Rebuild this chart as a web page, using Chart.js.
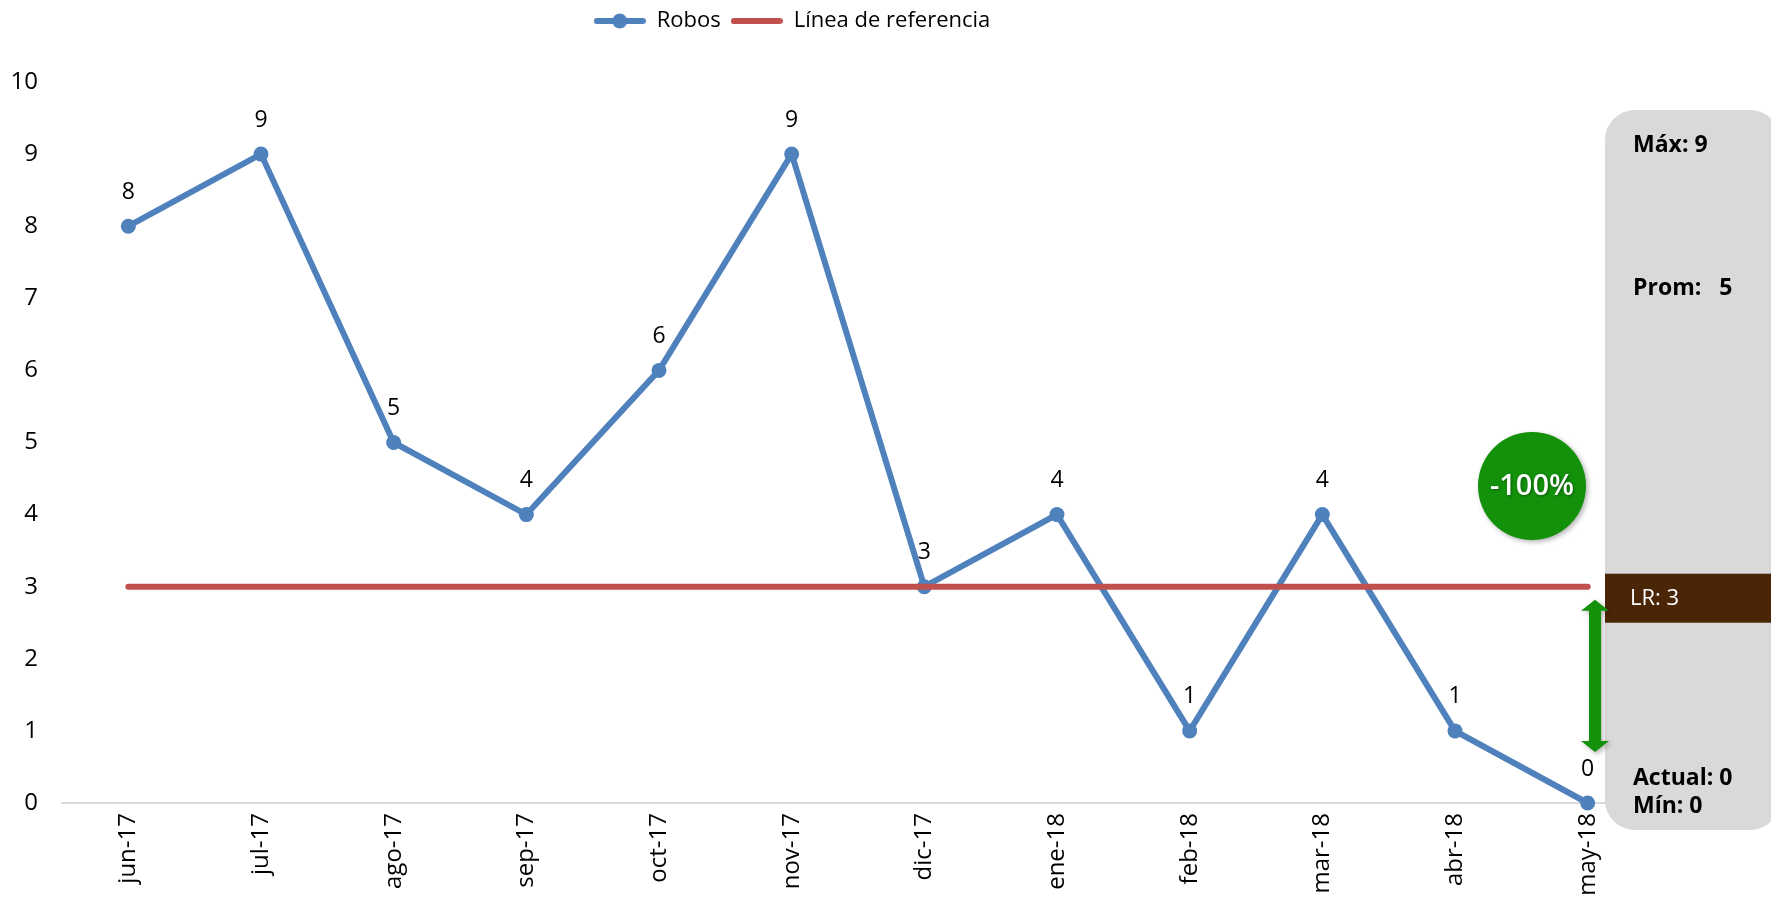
<!DOCTYPE html>
<html>
<head>
<meta charset="utf-8">
<script src="https://cdn.jsdelivr.net/npm/chart.js@4.4.1/dist/chart.umd.min.js"></script>
<style>
  html, body { margin: 0; padding: 0; background: #fff; }
  #wrap { width: 1771px; height: 900px; }
</style>
</head>
<body>
<div id="wrap"><canvas id="c" width="1771" height="900"></canvas></div>
<script>
// data
const meses = ['jun-17','jul-17','ago-17','sep-17','oct-17','nov-17','dic-17','ene-18','feb-18','mar-18','abr-18','may-18'];
const robos = [8, 9, 5, 4, 6, 9, 3, 4, 1, 4, 1, 0];
const lineaRef = [3, 3, 3, 3, 3, 3, 3, 3, 3, 3, 3, 3];
const yTicks = [0, 1, 2, 3, 4, 5, 6, 7, 8, 9, 10];

const azul = '#4f81bd';
const rojo = '#c0504d';
const verde = '#13910b';
const cafe = '#4a2506';
const gris = '#d9d9d9';
const fuente = '"Open Sans", "DejaVu Sans", sans-serif';

// stats shown in the side panel
const maximo = Math.max(...robos);
const minimo = Math.min(...robos);
const actual = robos[robos.length - 1];
const anterior = robos[robos.length - 2];
const promedio = Math.round(robos.reduce((a, b) => a + b, 0) / robos.length);
const cambio = anterior ? Math.round((actual - anterior) / anterior * 100) : 0;
const refValor = lineaRef[0];

// legend markers
function marcador(color, conPunto) {
  const c = document.createElement('canvas');
  c.width = 52; c.height = 18;
  const g = c.getContext('2d');
  g.strokeStyle = color;
  g.lineWidth = 6;
  g.lineCap = 'round';
  g.beginPath(); g.moveTo(3, 9); g.lineTo(49, 9); g.stroke();
  if (conPunto) {
    g.fillStyle = color;
    g.beginPath(); g.arc(26, 9, 7.5, 0, Math.PI * 2); g.fill();
  }
  return c;
}
const mkRobos = marcador(azul, true);
const mkRef = marcador(rojo, false);

// value labels above the points
const etiquetas = {
  id: 'etiquetas',
  afterDatasetsDraw(chart) {
    const ctx = chart.ctx;
    const meta = chart.getDatasetMeta(0);
    ctx.save();
    ctx.font = '23px ' + fuente;
    ctx.fillStyle = '#000';
    ctx.textAlign = 'center';
    ctx.textBaseline = 'middle';
    meta.data.forEach((p, i) => {
      ctx.fillText(String(robos[i]), p.x, p.y - 34);
    });
    ctx.restore();
  }
};

// put the legend at the very top
const moverLeyenda = {
  id: 'moverLeyenda',
  afterLayout(chart) {
    const lg = chart.legend;
    if (!lg) return;
    const h = lg.bottom - lg.top;
    lg.top = 0;
    lg.bottom = h;
    lg.right -= 70;
  }
};

// side panel, arrow, circle
const panel = {
  id: 'panel',
  afterDraw(chart) {
    const ctx = chart.ctx;
    const ys = chart.scales.y;
    const y3 = ys.getPixelForValue(refValor);
    const y0 = ys.getPixelForValue(0);
    const px = 1605;

    ctx.save();
    // grey box
    ctx.fillStyle = gris;
    ctx.beginPath();
    ctx.roundRect(px, 110, 175, 720, 30);
    ctx.fill();

    // brown band for LR
    ctx.fillStyle = cafe;
    ctx.fillRect(px, y3 - 13, 170, 49);

    ctx.fillStyle = '#fff';
    ctx.font = '22px ' + fuente;
    ctx.textAlign = 'left';
    ctx.textBaseline = 'middle';
    ctx.fillText('LR: ' + refValor, 1630, y3 + 12);

    // texts
    ctx.fillStyle = '#000';
    ctx.font = 'bold 23px ' + fuente;
    ctx.fillText('Máx: ' + maximo, 1633, 145);
    ctx.fillText('Prom:   ' + promedio, 1633, 288);
    ctx.fillText('Actual: ' + actual, 1633, 778);
    ctx.fillText('Mín: ' + minimo, 1633, 806);

    // green double arrow
    const ax = 1595;
    const top = y3 + 13, bot = y0 - 51;
    ctx.shadowColor = 'rgba(0,0,0,0.3)';
    ctx.shadowBlur = 5;
    ctx.shadowOffsetX = 2;
    ctx.shadowOffsetY = 2;
    ctx.fillStyle = verde;
    ctx.beginPath();
    ctx.moveTo(ax, top);
    ctx.lineTo(ax + 14, top + 11);
    ctx.lineTo(ax + 6, top + 11);
    ctx.lineTo(ax + 6, bot - 11);
    ctx.lineTo(ax + 14, bot - 11);
    ctx.lineTo(ax, bot);
    ctx.lineTo(ax - 14, bot - 11);
    ctx.lineTo(ax - 6, bot - 11);
    ctx.lineTo(ax - 6, top + 11);
    ctx.lineTo(ax - 14, top + 11);
    ctx.closePath();
    ctx.fill();

    // change circle
    ctx.beginPath();
    ctx.arc(1532, 486, 54, 0, Math.PI * 2);
    ctx.fill();
    ctx.shadowBlur = 3;
    ctx.shadowOffsetX = 1;
    ctx.shadowOffsetY = 1;
    ctx.shadowColor = 'rgba(0,0,0,0.4)';
    ctx.fillStyle = '#fff';
    ctx.font = '600 29px ' + fuente;
    ctx.textAlign = 'center';
    ctx.fillText(cambio + '%', 1532, 487);
    ctx.restore();
  }
};

const data = {
  labels: meses,
  datasets: [
    {
      label: 'Robos',
      data: robos,
      borderColor: azul,
      backgroundColor: azul,
      borderWidth: 6,
      pointStyle: 'circle',
      pointRadius: 7.5,
      pointHoverRadius: 7.5,
      pointBackgroundColor: azul,
      pointBorderWidth: 0,
      tension: 0,
      clip: false,
      order: 2
    },
    {
      label: 'Línea de referencia',
      data: lineaRef,
      borderColor: rojo,
      backgroundColor: rojo,
      borderWidth: 6,
      borderCapStyle: 'round',
      pointRadius: 0,
      pointHoverRadius: 0,
      tension: 0,
      clip: false,
      order: 1
    }
  ]
};

const config = {
  type: 'line',
  data,
  options: {
    responsive: false,
    devicePixelRatio: 1,
    animation: false,
    layout: { padding: { left: 0, right: 117, top: 40, bottom: 0 } },
    plugins: {
      legend: {
        position: 'top',
        labels: {
          usePointStyle: true,
          pointStyleWidth: 52,
          color: '#000',
          font: { family: fuente, size: 22 },
          padding: 10,
          generateLabels(chart) {
            return chart.data.datasets.map((ds, i) => ({
              text: ds.label,
              fillStyle: ds.borderColor,
              strokeStyle: ds.borderColor,
              lineWidth: 0,
              pointStyle: i === 0 ? mkRobos : mkRef,
              hidden: false,
              datasetIndex: i,
              fontColor: '#000'
            }));
          }
        }
      },
      tooltip: { enabled: false }
    },
    scales: {
      x: {
        offset: true,
        grid: { display: false, drawTicks: false },
        border: { display: true, color: gris, width: 2 },
        ticks: {
          minRotation: 90,
          maxRotation: 90,
          padding: 10,
          color: '#000',
          font: { family: fuente, size: 24 }
        },
        afterFit(scale) { scale.height = 97; }
      },
      y: {
        min: 0,
        max: 10,
        grid: { display: false, drawTicks: false },
        border: { display: false },
        afterBuildTicks(scale) { scale.ticks = yTicks.map(v => ({ value: v })); },
        ticks: {
          padding: 24,
          color: '#000',
          font: { family: fuente, size: 24 }
        },
        afterFit(scale) { scale.width = 62; }
      }
    }
  },
  plugins: [etiquetas, moverLeyenda, panel]
};

let myChart = new Chart(document.getElementById('c'), config);
</script>
</body>
</html>
